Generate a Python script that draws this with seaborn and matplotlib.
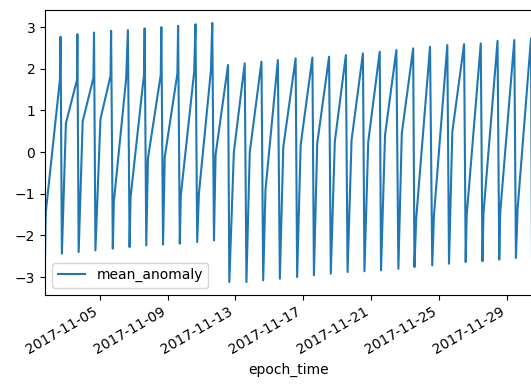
import numpy as np
import pandas as pd
import matplotlib
matplotlib.use("Agg")
import matplotlib.pyplot as plt
import matplotlib.dates as mdates
import seaborn as sns

# epoch time as fractional day of November 2017
epoch_day = [
    1.770, 1.818, 2.647, 2.689,
    2.766, 3.003, 3.655, 3.679,
    3.756, 3.993, 4.627, 4.662,
    4.745, 5.041, 5.634, 5.670,
    5.770, 5.830, 6.559, 6.660,
    6.760, 6.819, 7.607, 7.649,
    7.744, 7.844, 8.597, 8.633,
    8.733, 8.834, 9.581, 9.622,
    9.723, 9.782, 10.570, 10.647,
    10.748, 10.849, 11.560, 11.637,
    11.738, 11.832, 12.567,
    12.644, 12.911, 13.551,
    13.653, 13.849, 14.541,
    14.641, 14.778, 15.507,
    15.625, 15.827, 16.556,
    16.644, 16.852, 17.545,
    17.634, 17.830, 18.529,
    18.630, 18.867, 19.519,
    19.619, 19.856, 20.526,
    20.615, 20.840, 21.516,
    21.593, 21.830, 22.499,
    22.618, 22.819, 23.489,
    23.566, 23.667, 24.484,
    24.615, 24.716, 25.504,
    25.604, 25.800, 26.493,
    26.588, 26.647, 27.477,
    27.578, 27.637, 28.467,
    28.567, 28.627, 29.456,
    29.551, 29.652, 30.440,
    30.500,
]

mean_anomaly = [
    -2.48, -1.44, 1.73, 2.77,
    -2.44, 0.69, 1.73, 2.83,
    -2.40, 0.74, 1.78, 2.87,
    -2.36, 0.79, 1.83, 2.91,
    -2.32, -1.20, 1.77, 2.93,
    -2.28, -1.08, 1.85, 2.97,
    -2.24, -0.15, 1.85, 3.00,
    -2.22, -0.12, 1.89, 3.03,
    -2.20, -1.04, 1.93, 3.07,
    -2.16, -1.00, 1.97, 3.10,
    -2.12, -0.07, 2.09,
    -3.12, 0.00, 2.13,
    -3.12, 0.00, 2.17,
    -3.08, -0.90, 2.21,
    -3.04, 0.12, 2.25,
    -3.00, 0.17, 2.27,
    -2.96, 0.21, 2.29,
    -2.92, 0.25, 2.33,
    -2.88, 0.29, 2.37,
    -2.86, 0.25, 2.41,
    -2.84, 0.41, 2.45,
    -2.80, 0.45, 2.49,
    -2.76, -1.60, 2.53,
    -2.72, -1.52, 2.57,
    -2.68, 0.49, 2.59,
    -2.64, -1.52, 2.61,
    -2.62, -1.47, 2.67,
    -2.58, -1.44, 2.69,
    -2.54, -1.36, 2.73,
    -2.50,
]

tick_days = [5, 9, 13, 17, 21, 25, 29]

epoch_time = pd.Timestamp("2017-11-01") + pd.to_timedelta(np.array(epoch_day) - 1.0, unit="D")
df = pd.DataFrame({"epoch_time": epoch_time, "mean_anomaly": mean_anomaly})

fig = plt.figure(figsize=(5.31, 3.88), dpi=100)
ax = fig.add_axes([45 / 531, 93 / 388, (532 - 45) / 531, 285 / 388])

sns.lineplot(data=df, x="epoch_time", y="mean_anomaly", ax=ax,
             estimator=None, sort=False, color="#1f77b4", linewidth=1.5,
             label="mean_anomaly")

ax.set_xlim(df["epoch_time"].min(), df["epoch_time"].max())
ax.margins(y=0.05)
ax.xaxis.set_major_locator(mdates.DayLocator(bymonthday=tick_days))
ax.xaxis.set_major_formatter(mdates.DateFormatter("%Y-%m-%d"))
for lbl in ax.get_xticklabels():
    lbl.set_rotation(30)
    lbl.set_ha("right")
ax.set_xlabel("epoch_time")
ax.set_ylabel("")
ax.legend(loc="lower left")

fig.savefig("out.png", dpi=100)
